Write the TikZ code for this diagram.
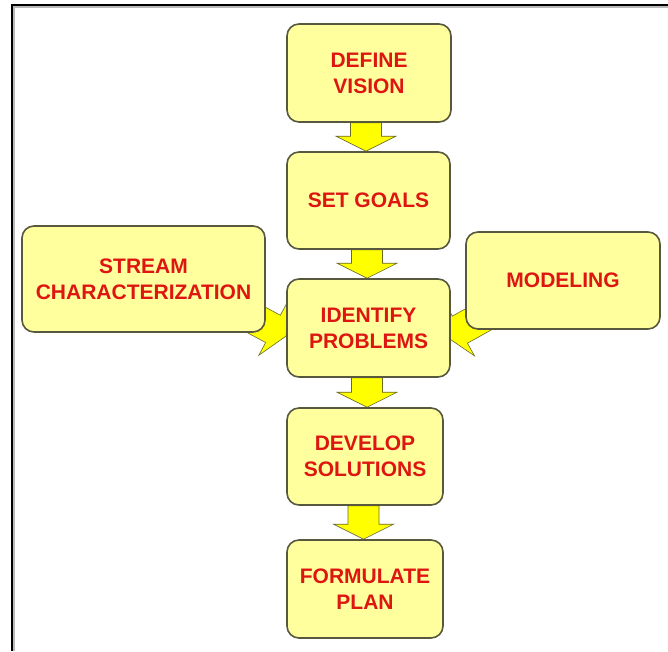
\documentclass[tikz,border=0pt]{standalone}
\usepackage{fontspec}
\setmainfont{Liberation Sans}
\usetikzlibrary{calc,backgrounds}

\definecolor{boxfill}{RGB}{255,255,158}
\definecolor{boxedge}{RGB}{88,88,62}
\definecolor{labelred}{RGB}{222,22,18}
\definecolor{arrowfill}{RGB}{255,255,0}
\definecolor{arrowedge}{RGB}{105,105,40}

\tikzset{
  stepbox/.style={rectangle, rounded corners=12pt, draw=boxedge, line width=1.6pt,
    fill=boxfill, text=labelred, align=center, inner sep=0pt,
    font=\fontsize{21}{26}\selectfont\bfseries},
  % wide block arrow: shaft 31pt, head 60pt wide and 15pt long
  blockarrow/.style={fill=arrowfill, draw=arrowedge, line width=0.6pt, line join=miter,
    to path={
      ($(\tikztostart)!15.5pt!90:(\tikztotarget)$)
      -- ($(\tikztotarget)!15pt!(\tikztostart)!15.5pt!90:(\tikztotarget)$)
      -- ($(\tikztotarget)!15pt!(\tikztostart)!30pt!90:(\tikztotarget)$)
      -- (\tikztotarget)
      -- ($(\tikztotarget)!15pt!(\tikztostart)!30pt!-90:(\tikztotarget)$)
      -- ($(\tikztotarget)!15pt!(\tikztostart)!15.5pt!-90:(\tikztotarget)$)
      -- ($(\tikztostart)!15.5pt!-90:(\tikztotarget)$)
      -- cycle}},
  frameline/.style={line width=2pt, black}
}

\begin{document}
\begin{tikzpicture}[x=1pt,y=-1pt]
  \useasboundingbox (0,0) rectangle (668,651);

  % page frame (left and top edges)
  \draw[gray!55, line width=1.2pt] (14,651) -- (14,7) -- (668,7);
  \draw[frameline] (12,651) -- (12,4.5) -- (668,4.5);

  % main chain of steps
  \node[stepbox, minimum width=164pt, minimum height=98pt] (dv) at (369,73) {DEFINE\\VISION};
  \node[stepbox, minimum width=163pt, minimum height=97pt] (sg) at (368.5,200.5) {SET GOALS};
  \node[stepbox, minimum width=163pt, minimum height=98pt] (ip) at (368.5,328) {IDENTIFY\\PROBLEMS};
  \node[stepbox, minimum width=156pt, minimum height=97pt] (ds) at (365,456.5) {DEVELOP\\SOLUTIONS};
  \node[stepbox, minimum width=156pt, minimum height=98pt] (fp) at (365,589) {FORMULATE\\PLAN};

  % side inputs
  \node[stepbox, minimum width=243pt, minimum height=106pt] (sc) at (143.5,279) {STREAM\\CHARACTERIZATION};
  \node[stepbox, minimum width=194pt, minimum height=97pt] (mo) at (563,280.5) {MODELING};

  % arrow ends
  \coordinate (t1) at (dv.south -| 366,0);
  \coordinate (h1) at (sg.north -| 366,0);
  \coordinate (t2) at (sg.south -| 367,0);
  \coordinate (h2) at (ip.north -| 367,0);
  \coordinate (t3) at (ip.south -| 367,0);
  \coordinate (h3) at (ds.north -| 367,0);
  \coordinate (t4) at (ds.south -| 363.5,0);
  \coordinate (h4) at (fp.north -| 363.5,0);
  \coordinate (scout) at ($(sc.south east)+(-31,-24.5)$);
  \coordinate (scin) at ($(ip.west)+(0,8)$);
  \coordinate (moout) at ($(mo.south west)+(32.4,-21.2)$);
  \coordinate (moin) at ($(ip.east)+(-4,9)$);

  % arrows sit behind the boxes
  \begin{pgfonlayer}{background}
    \fill[white] (0,0) rectangle (668,651);
    \draw[blockarrow] (t1) to (h1);
    \draw[blockarrow] (t2) to (h2);
    \draw[blockarrow] (t3) to (h3);
    \draw[blockarrow] (t4) to (h4);
    \draw[blockarrow] (scout) to (scin);
    \draw[blockarrow] (moout) to (moin);
  \end{pgfonlayer}
\end{tikzpicture}
\end{document}
